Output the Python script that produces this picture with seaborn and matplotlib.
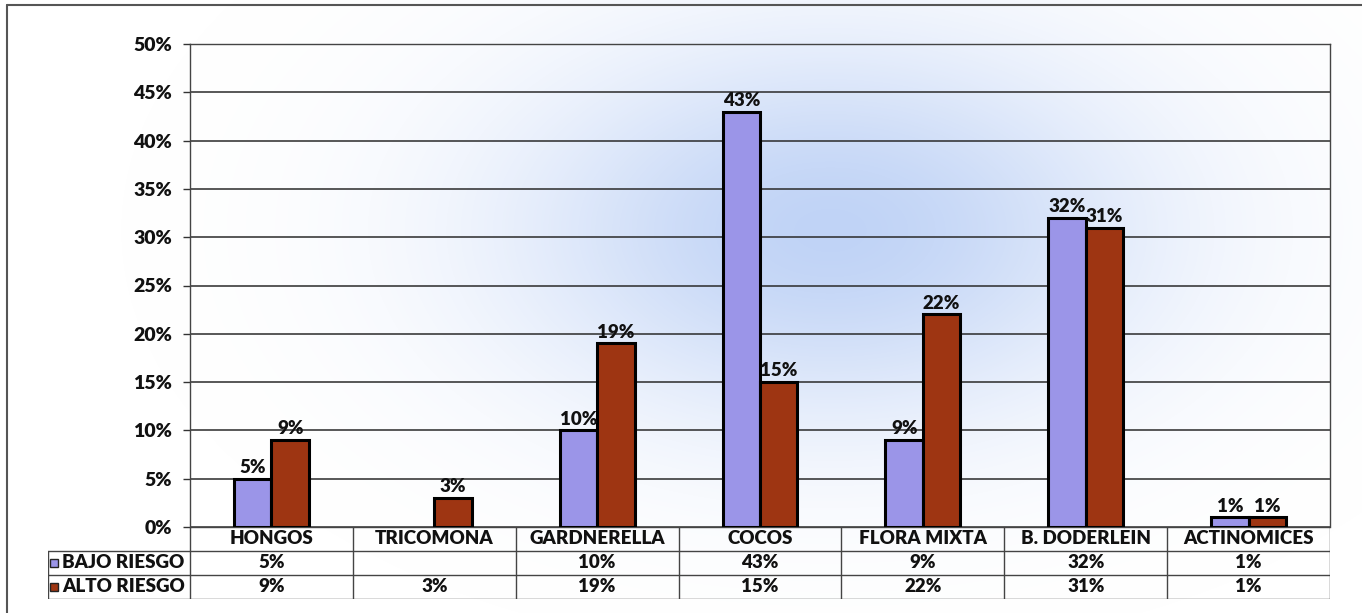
import numpy as np
import pandas as pd
import matplotlib
matplotlib.use('Agg')
import matplotlib.pyplot as plt
from matplotlib.lines import Line2D
import seaborn as sns

# --- data ---
categories = ['HONGOS', 'TRICOMONA', 'GARDNERELLA', 'COCOS',
              'FLORA MIXTA', 'B. DODERLEIN', 'ACTINOMICES']
series = ['BAJO RIESGO', 'ALTO RIESGO']
bajo_riesgo = [5, np.nan, 10, 43, 9, 32, 1]
alto_riesgo = [9, 3, 19, 15, 22, 31, 1]
colors = ['#9b95e8', '#9e3512']
yticks = list(range(0, 55, 5))

df = pd.DataFrame({
    'categoria': categories * 2,
    'serie': [series[0]] * len(categories) + [series[1]] * len(categories),
    'valor': bajo_riesgo + alto_riesgo,
})

sns.set_theme(style='white')
plt.rcParams['font.family'] = ['Lato', 'DejaVu Sans']
FW = 'heavy'
FS = 13.5
TXT = '#111111'

W, H = 1362, 613
fig = plt.figure(figsize=(W / 100, H / 100), dpi=100)
fig.patch.set_facecolor('white')

# background blue blob (scanned page tint)
bg = fig.add_axes([0, 0, 1, 1], zorder=-5)
yy, xx = np.mgrid[0:H, 0:W]
d = ((xx - 830) / 300.0) ** 2 + ((yy - 230) / 180.0) ** 2
alpha = 0.6 * np.exp(-d * 0.9)
img = np.zeros((H, W, 4))
img[..., 0] = 150 / 255
img[..., 1] = 182 / 255
img[..., 2] = 240 / 255
img[..., 3] = alpha
bg.imshow(img, extent=[0, W, H, 0], aspect='auto')
bg.set_xlim(0, W)
bg.set_ylim(H, 0)
bg.axis('off')

def fx(px):
    return px / W

def fy(py):
    return 1 - py / H

# --- main chart ---
L, R, T, B = 190, 1330, 44, 527
ax = fig.add_axes([fx(L), fy(B), fx(R - L), (B - T) / H])
ax.set_facecolor('none')

sns.barplot(data=df, x='categoria', y='valor', hue='serie', order=categories,
            hue_order=series, palette=colors, width=0.46, saturation=1,
            edgecolor='black', linewidth=2.2, ax=ax, legend=False, zorder=3)

# value labels above each bar
for cont in ax.containers:
    for bar in cont:
        if bar is None:
            continue
        h = bar.get_height()
        if np.isnan(h):
            continue
        ax.annotate(f'{h:g}%', (bar.get_x() + bar.get_width() / 2, h),
                    xytext=(0, 2), textcoords='offset points', ha='center',
                    va='bottom', fontsize=FS, fontweight=FW, color=TXT)

ax.set_xlim(-0.5, len(categories) - 0.5)
ax.set_ylim(0, 50)
ax.set_yticks(yticks)
ax.set_yticklabels([f'{t}%' for t in yticks], fontsize=FS + 0.5,
                   fontweight=FW, color=TXT)
ax.set_xticks([])
ax.set_xlabel('')
ax.set_ylabel('')
ax.tick_params(axis='y', left=True, length=5, width=1, pad=8, color='#333333')
for t in yticks:
    ax.axhline(t, color='#2a2a2a', lw=1.1, zorder=1)
for s in ['left', 'right', 'top']:
    ax.spines[s].set_visible(True)
    ax.spines[s].set_color('#444444')
    ax.spines[s].set_linewidth(1)
ax.spines['bottom'].set_visible(False)

# --- data table ---
TL, TB = 48, 599
tab = fig.add_axes([fx(TL), fy(TB), fx(R - TL), (TB - B) / H])
tab.set_facecolor('none')
unit = (R - L) / len(categories)
xleft = -0.5 - (L - TL) / unit
tab.set_xlim(xleft, len(categories) - 0.5)
tab.set_ylim(3, 0)
tab.axis('off')

lc = '#444444'
tab.plot([-0.5, len(categories) - 0.5], [0, 0], color=lc, lw=1)
for r in [1, 2, 3]:
    tab.plot([xleft, len(categories) - 0.5], [r, r], color=lc, lw=1)
for i in range(len(categories) + 1):
    tab.plot([i - 0.5, i - 0.5], [0, 3], color=lc, lw=1)
tab.plot([xleft, xleft], [1, 3], color=lc, lw=1)

for i, c in enumerate(categories):
    tab.text(i, 0.5, c, ha='center', va='center', fontsize=FS,
             fontweight=FW, color=TXT)
for r, (name, vals, col) in enumerate(zip(series, [bajo_riesgo, alto_riesgo], colors)):
    yrow = r + 1.5
    tab.plot([xleft + 6 / unit], [yrow], marker='s', markersize=6,
             markerfacecolor=col, markeredgecolor='#222222', mew=1)
    tab.text(xleft + 14 / unit, yrow, name, ha='left', va='center',
             fontsize=FS, fontweight=FW, color=TXT)
    for i, v in enumerate(vals):
        if not np.isnan(v):
            tab.text(i, yrow, f'{v:g}%', ha='center', va='center',
                     fontsize=FS, fontweight=FW, color=TXT)

# outer frame (top and left edges visible)
fig.add_artist(Line2D([fx(7), 1], [fy(5), fy(5)], color='#555555', lw=1.5,
                      transform=fig.transFigure))
fig.add_artist(Line2D([fx(7), fx(7)], [0, fy(5)], color='#555555', lw=1.5,
                      transform=fig.transFigure))

fig.savefig('out.png', dpi=100)
